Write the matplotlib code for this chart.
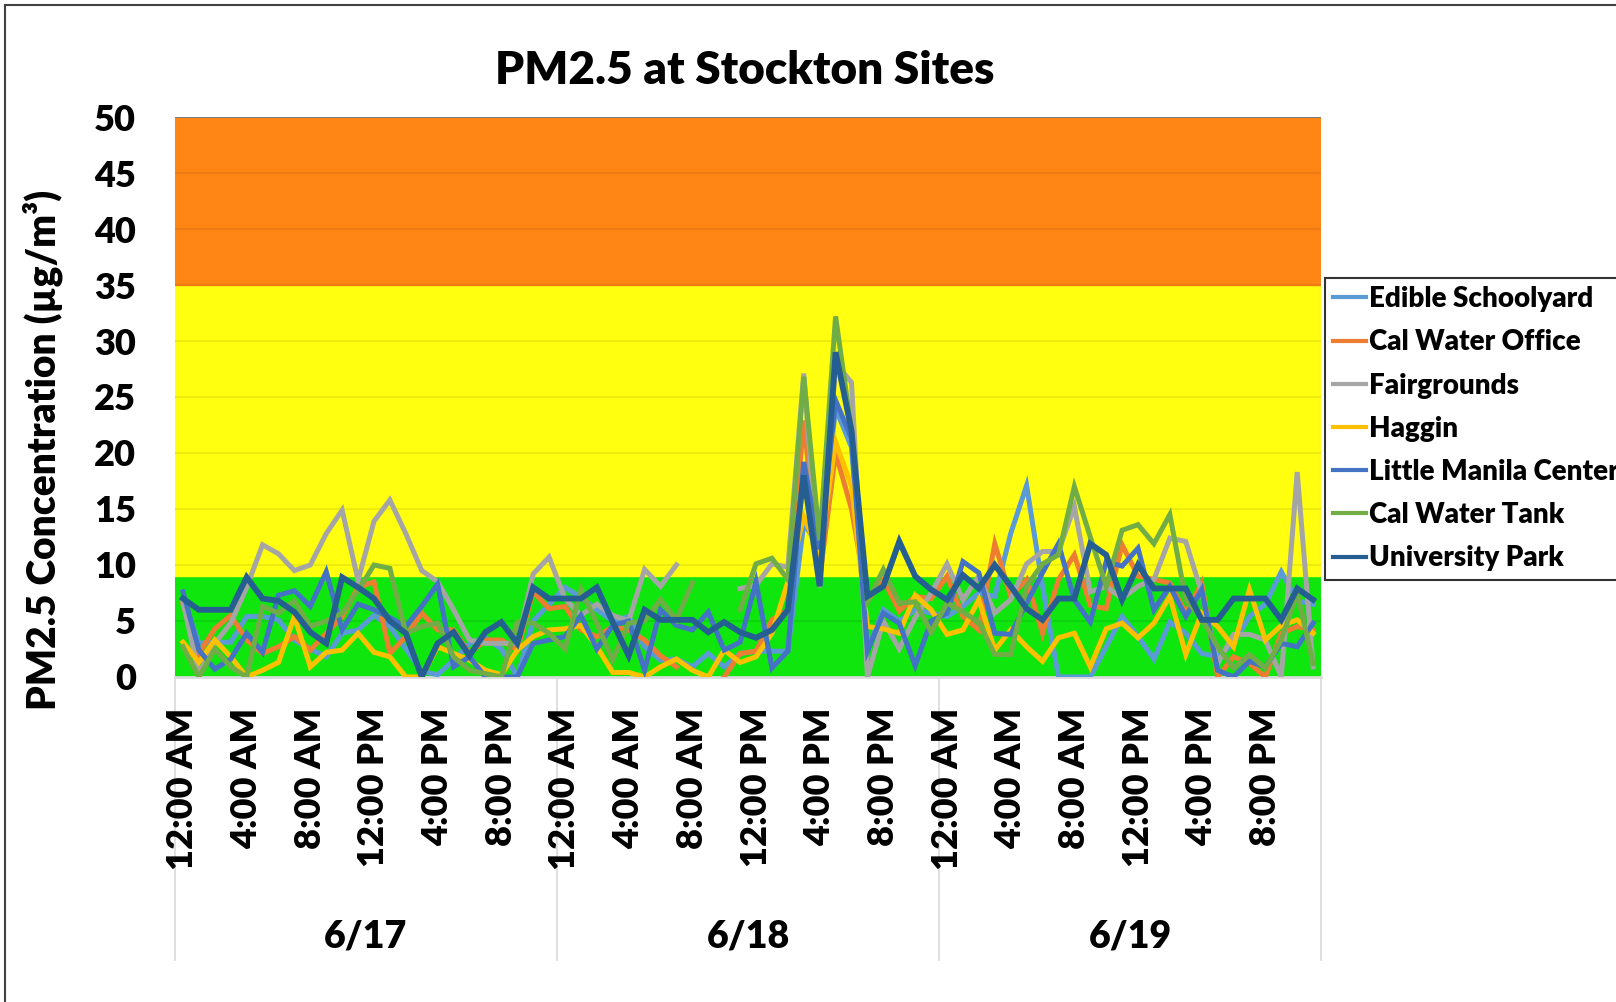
import numpy as np
import matplotlib
matplotlib.use("Agg")
import matplotlib.pyplot as plt
from matplotlib.lines import Line2D
import matplotlib.transforms as mtransforms

plt.rcParams['font.family'] = ['Lato', 'DejaVu Sans']
plt.rcParams['font.weight'] = 'bold'

nan = np.nan

days = ["6/17", "6/18", "6/19"]
hour_labels = ["12:00 AM", "4:00 AM", "8:00 AM", "12:00 PM", "4:00 PM", "8:00 PM"]

# hourly PM2.5 (ug/m3), 72 hours
edible_schoolyard = [
    7, 3, 3.1, 3.1, 5.4, 5.4, 5.1, 3.3, 2.5, 1.8, 3.9, 4.2,
    5.5, 4.5, 2.5, 0.5, 0.2, 1.5, 3, 3.5, 2.5, 0, 5, 6.5,
    8, 7.1, 6, 5, 5.4, 2.7, 1.5, 1.6, 0.9, 2.1, 0.9, 2.1,
    2.3, 2.3, 2.3, 13.7, 11.6, 24, 20.5, 2.4, 6, 5, 6, 5.7,
    5.4, 6.3, 7.5, 7.2, 12.8, 17.1, 8.1, 0, 0, 0, 2.7, 5.4,
    3.6, 1.6, 4.9, 3.9, 2.1, 1.8, 3, 5.4, 6.5, 9.4, 6.8, 6.5]
cal_water_office = [
    6.5, 2.1, 4.3, 5.5, 3.3, 2.1, 2.7, 3.6, 2.4, 3.9, 5.4, 8,
    8.5, 2.1, 3.6, 5.7, 4.2, 4.2, 2.1, 3.3, 3.3, 2.4, 7.6, 6.1,
    6.3, 4.2, 3.6, 4.5, 4.2, 3.3, 1.9, 0.9, nan, nan, 0, 2.1,
    2.3, 5.1, 6, 22.9, 8.8, 20, 15, 6.8, 8.7, 5.9, 7.2, 7,
    9, 5.4, 4.2, 11.9, 7.2, 8.7, 3.9, 8.7, 10.9, 6.4, 6.1, 11.8,
    9, 8.7, 8.4, 5.7, 8.4, 0, 1.8, 1.2, 0, 3.9, 4.5, 4.2]
fairgrounds = [
    6.7, 0.3, 3, 4.8, 8, 11.8, 11, 9.5, 10, 12.8, 14.9, 8.6,
    13.9, 15.8, 12.8, 9.5, 8.5, 6, 3.3, 3, 3, 3, 9.2, 10.7,
    7, 5.5, 6.5, 5.5, 5, 9.6, 8.1, 10, nan, nan, nan, 7.9,
    8.2, 10.1, 9.8, 27.1, 8, 28, 26.3, 0, 5, 2.5, 5.3, 7.5,
    10.1, 6.9, 9, 5.7, 6.9, 10.1, 11.2, 11.2, 15.2, 7.6, 8.1, 7,
    8.1, 8.7, 12.4, 12.1, 7.5, 1.2, 3.8, 3.8, 3.3, 0, 18.3, 0.9]
haggin = [
    3.1, 1.3, 3.3, 1.8, 0, 0.6, 1.3, 5.4, 0.9, 2.2, 2.4, 3.9,
    2.2, 1.8, 0, 0, 2.7, 2.1, 1.5, 0.6, 0.2, 2.4, 3.6, 4.2,
    4.3, 4.6, 2.7, 0.4, 0.4, 0, 0.9, 1.6, 0.6, 0, 2.4, 1.3,
    1.8, 3.9, 8.5, 14.3, 11, 21, 17, 4.5, 4.3, 3.9, 7.3, 6,
    3.8, 4.2, 6.9, 2.4, 4.2, 2.7, 1.4, 3.5, 3.9, 0.9, 4.3, 4.8,
    3.5, 4.8, 7.2, 2, 5.7, 4.5, 2.7, 7.8, 3.3, 4.6, 5.1, 3.9]
little_manila = [
    7.6, 2.4, 0.7, 1.6, 3.9, 2.2, 7.3, 7.7, 6.3, 9.4, 4.2, 6.5,
    6, 5.3, 4.5, 6.3, 8.3, 0.9, 1.8, 0, 0, 0, 3, 3.3,
    3.6, 5.5, 2.5, 4.6, 5, 0.6, 6, 4.6, 4.2, 5.8, 2.4, 3.1,
    8.5, 0.8, 2.3, 19.2, 11.4, 24.7, 21.3, 2.3, 5.7, 4.8, 1, 5,
    5.7, 10.3, 9.3, 3.9, 3.8, 6.6, 9.3, 11.9, 6.9, 4.9, 10.3, 9.9,
    11.5, 6, 8.1, 5.4, 7.8, 0.6, 0, 1.4, 0.9, 3, 2.7, 4.8]
cal_water_tank = [
    2.7, 0, 2.5, 0.9, 0, 6.3, 5.7, 6.8, 4.5, 5, 5.7, 7.7,
    10, 9.7, 3.9, 4.5, 4.8, 1.8, 0.6, 0.3, 0, 4.9, 4.8, 3.9,
    2.5, 7.8, 4.8, 1.5, 4.8, 5, 6.9, 5.1, 8.4, nan, nan, 6,
    10.1, 10.6, 8.7, 26.8, 12.2, 32.2, 22, 6.7, 9.6, 6.6, 6.7, 4,
    6.6, 5.8, 4.9, 2, 2, 8.1, 10.1, 10.9, 17, 12.5, 8.1, 13.1,
    13.6, 11.9, 14.5, 6.9, 5.2, 2.7, 0.8, 2, 0.8, 3.3, 7.5, 1.2]
university_park = [
    7, 6, 6, 6, 8.9, 7, 6.8, 5.8, 4, 3, 8.9, 8,
    7, 5, 3.9, 0, 3, 4, 1.9, 4, 4.9, 3, 8, 7,
    7, 7, 8, 4.9, 1.9, 6, 5.1, 5.1, 5.1, 4, 4.9, 4,
    3.5, 4.2, 6, 18, 8.1, 29, 22, 7.2, 8.1, 12.1, 9, 7.8,
    6.9, 9.1, 7.9, 10, 8.1, 6.1, 5.1, 7, 7, 11.9, 10.9, 6.9,
    10, 7.9, 7.9, 7.9, 5.1, 5.1, 7, 7, 7, 5.1, 7.9, 6.9]

series = [
    ("Edible Schoolyard", edible_schoolyard, "#5B9BD5"),
    ("Cal Water Office", cal_water_office, "#ED7D31"),
    ("Fairgrounds", fairgrounds, "#A5A5A5"),
    ("Haggin", haggin, "#FFC000"),
    ("Little Manila Center", little_manila, "#4472C4"),
    ("Cal Water Tank", cal_water_tank, "#70AD47"),
    ("University Park", university_park, "#255E91"),
]

W = "heavy"

fig = plt.figure(figsize=(16.16, 10.02), dpi=100)
ax = fig.add_axes([0.1083, 0.3244, 0.7092, 0.5588])

# AQI bands
ax.axhspan(0, 9, color="#0EE60E", zorder=0)
ax.axhspan(9, 35, color="#FFFF0F", zorder=0)
ax.axhspan(35, 50, color="#FF8514", zorder=0)
for v in range(5, 50, 5):
    ax.axhline(v, color="k", alpha=0.07, lw=1.5, zorder=1)
ax.axhline(50, color="#7F7F7F", lw=1.5, zorder=1)

x = np.arange(72)
for name, vals, col in series:
    lw = 4.2 if name == "University Park" else 3.6
    ax.plot(x, vals, color=col, lw=lw, label=name, zorder=3,
            solid_joinstyle="miter")

ax.set_xlim(-0.5, 71.5)
ax.set_ylim(0, 50)
ax.set_yticks(range(0, 51, 5))
ax.tick_params(axis="y", length=0, labelsize=26, pad=28)
for s in ["top", "right", "left"]:
    ax.spines[s].set_visible(False)
ax.spines["bottom"].set_color("#D9D9D9")
ax.spines["bottom"].set_linewidth(2)

ticks = list(range(0, 72, 4))
ax.set_xticks(ticks)
ax.set_xticklabels(hour_labels * 3, rotation=90, va="top", ha="center")
ax.tick_params(axis="x", length=0, labelsize=26, pad=22)
for lab in ax.get_xticklabels() + ax.get_yticklabels():
    lab.set_fontweight(W)

# day separators and day labels
trans = mtransforms.blended_transform_factory(ax.transData, ax.transAxes)
for b in [-0.5, 23.5, 47.5, 71.5]:
    ax.plot([b, b], [0, -0.505], color="#D9D9D9", lw=1.2, transform=trans,
            clip_on=False, zorder=0)
for k, d in enumerate(days):
    ax.text(24 * k + 11.5, -0.463, d, transform=trans, ha="center",
            va="center", fontsize=27, fontweight=W)

ax.set_ylabel("PM2.5 Concentration (µg/m³)", fontsize=28, fontweight=W)
ax.yaxis.set_label_coords(-0.098, 0.405)
fig.text(0.461, 0.93, "PM2.5 at Stockton Sites", ha="center", va="center",
         fontsize=33, fontweight=W)

leg = ax.legend(loc="upper left", bbox_to_anchor=(1.003, 0.713),
                fontsize=20, frameon=True, fancybox=False, handlelength=1.2,
                handletextpad=0.1, labelspacing=0.62, borderpad=0.3,
                borderaxespad=0)
leg.get_frame().set_edgecolor("black")
leg.get_frame().set_linewidth(1.5)
for h in leg.get_lines():
    h.set_linewidth(3)
for t in leg.get_texts():
    t.set_fontweight(W)

# outer chart border (top and left visible)
fig.add_artist(Line2D([0.003, 1.0], [0.995, 0.995], color="#404040", lw=1.5))
fig.add_artist(Line2D([0.003, 0.003], [0.0, 0.995], color="#404040", lw=1.5))

fig.savefig("out.png", dpi=100)
